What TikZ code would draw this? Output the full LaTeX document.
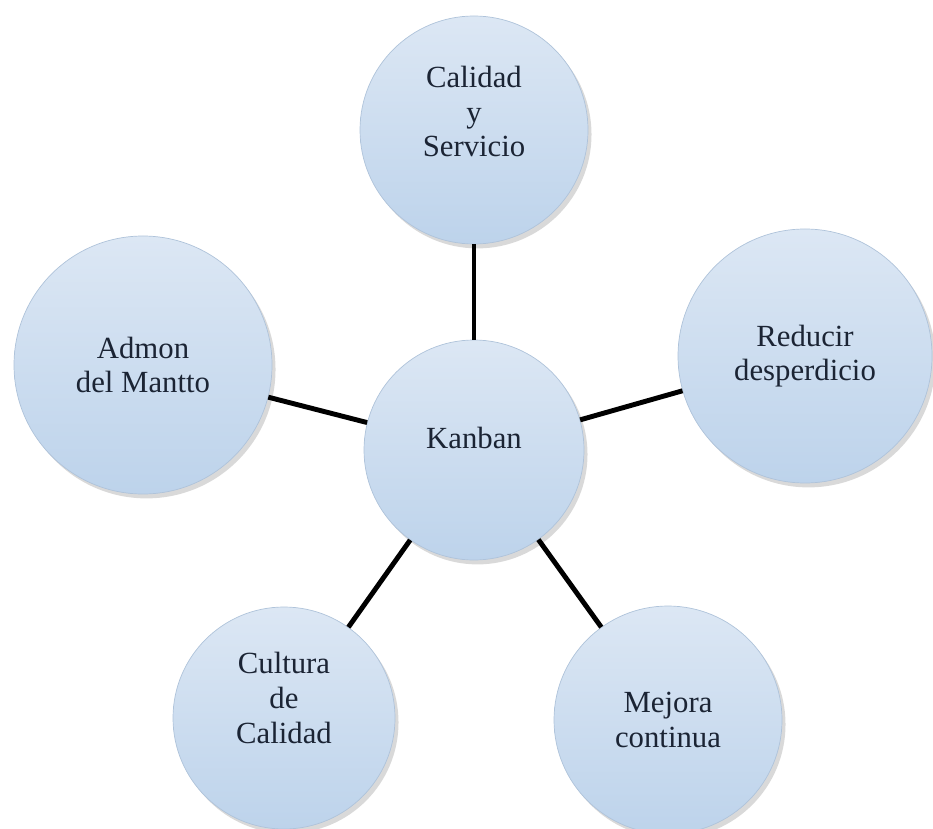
\documentclass[tikz,border=0pt]{standalone}
\usepackage{fontspec}
\setmainfont{Liberation Serif}
\usepackage{tikz}
\usetikzlibrary{shadows}

\definecolor{bubtop}{HTML}{DCE7F4}
\definecolor{bubbot}{HTML}{BDD3EB}
\definecolor{bubline}{HTML}{AFC3DA}
\definecolor{bubtext}{HTML}{1B2434}

\tikzset{
  bubble/.style={circle,draw=bubline,thin,top color=bubtop,bottom color=bubbot,
    align=center,text=bubtext,font=\fontsize{17.5}{19.8}\selectfont,
    drop shadow={shadow xshift=2pt,shadow yshift=-2.5pt,opacity=0.15,fill=black}},
  spoke/.style={line width=2.8pt,black}
}

\begin{document}
\begin{tikzpicture}
\useasboundingbox (0,0) rectangle (18.66,16.56);
\node[bubble,minimum size=4.4cm] (kanban) at (9.48,7.56) {Kanban\\[-0.2cm]};
\node[bubble,minimum size=4.56cm] (calidad) at (9.48,13.96) {Calidad\\y\\Servicio\\[0.05cm]};
\node[bubble,minimum size=5.16cm] (admon) at (2.86,9.26) {Admon\\del Mantto};
\node[bubble,minimum size=5.08cm] (reducir) at (16.10,9.44) {Reducir\\desperdicio};
\node[bubble,minimum size=4.44cm] (cultura) at (5.68,2.20) {Cultura\\de\\Calidad\\[0.1cm]};
\node[bubble,minimum size=4.56cm] (mejora) at (13.36,2.16) {Mejora\\continua};
\draw[spoke] (kanban) -- (calidad);
\draw[spoke] (kanban) -- (admon);
\draw[spoke] (kanban) -- (reducir);
\draw[spoke] (kanban) -- (cultura);
\draw[spoke] (kanban) -- (mejora);
\end{tikzpicture}
\end{document}
